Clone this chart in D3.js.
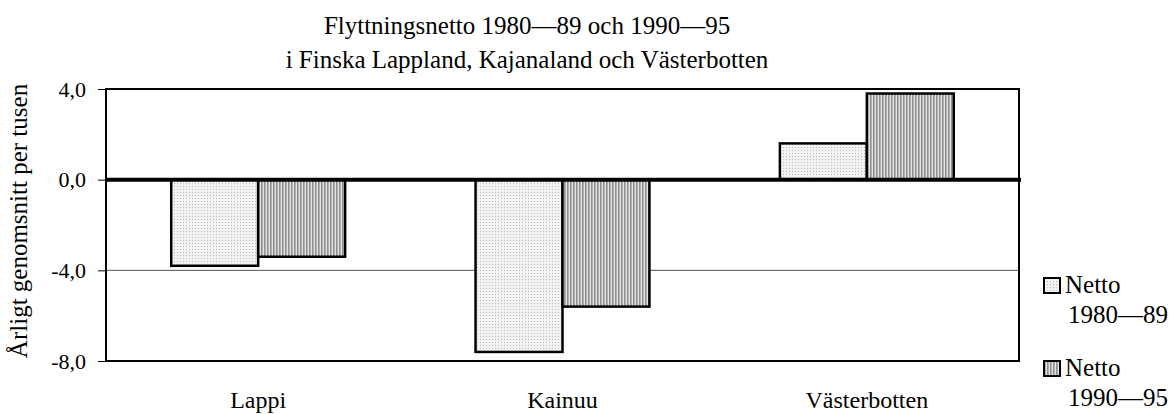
<!DOCTYPE html>
<html>
<head>
<meta charset="utf-8">
<script src="https://cdn.jsdelivr.net/npm/d3@7"></script>
<style>
  body { margin: 0; background: #fff; }
  svg text { font-family: "Liberation Serif", "DejaVu Serif", serif; fill: #000; }
</style>
</head>
<body>
<svg id="chart" width="1172" height="414"></svg>
<script>
// data
var regioner = ['Lappi', 'Kainuu', 'Västerbotten'];
var serier = ['Netto 1980—89', 'Netto 1990—95'];
var netto8089 = [-3.8, -7.6, 1.6];
var netto9095 = [-3.4, -5.6, 3.8];
var yTicks = [4, 0, -4, -8];
var titelRader = ['Flyttningsnetto 1980—89 och 1990—95', 'i Finska Lappland, Kajanaland och Västerbotten'];
var yTitel = 'Årligt genomsnitt per tusen';

var typsnitt = '"Liberation Serif", "DejaVu Serif", serif';
var svg = d3.select('#chart');
var plot = { left: 106, right: 1019, top: 89, bottom: 361 };

var x = d3.scaleBand().domain(regioner).range([plot.left, plot.right]).paddingInner(0).paddingOuter(0);
var x1 = d3.scaleBand().domain([0, 1]).range([0, x.bandwidth()]).paddingInner(0).paddingOuter(0.75);
var y = d3.scaleLinear().domain([-8, 4]).range([plot.bottom, plot.top]);

// mönster
var defs = svg.append('defs');
var prick = defs.append('pattern').attr('id', 'prick')
  .attr('patternUnits', 'userSpaceOnUse').attr('width', 3).attr('height', 3);
prick.append('rect').attr('width', 3).attr('height', 3).attr('fill', '#f2f2f2');
prick.append('rect').attr('width', 1).attr('height', 1).attr('fill', '#bdbdbd');
var rand = defs.append('pattern').attr('id', 'rand')
  .attr('patternUnits', 'userSpaceOnUse').attr('width', 3).attr('height', 3);
rand.append('rect').attr('width', 3).attr('height', 3).attr('fill', '#e4e4e4');
rand.append('rect').attr('width', 1.6).attr('height', 3).attr('fill', '#8f8f8f');
var fyll = ['url(#prick)', 'url(#rand)'];

// rutnät
svg.append('g').selectAll('line').data(yTicks.filter(function(d) { return d === -4; }))
  .enter().append('line')
  .attr('x1', plot.left).attr('x2', plot.right)
  .attr('y1', function(d) { return y(d); }).attr('y2', function(d) { return y(d); })
  .attr('stroke', '#555').attr('stroke-width', 1);

// staplar
var data = [];
regioner.forEach(function(r, i) {
  data.push({ r: r, s: 0, v: netto8089[i] });
  data.push({ r: r, s: 1, v: netto9095[i] });
});
svg.append('g').selectAll('rect').data(data).enter().append('rect')
  .attr('x', function(d) { return x(d.r) + x1(d.s); })
  .attr('width', x1.bandwidth())
  .attr('y', function(d) { return y(Math.max(0, d.v)); })
  .attr('height', function(d) { return Math.abs(y(d.v) - y(0)); })
  .attr('fill', function(d) { return fyll[d.s]; })
  .attr('stroke', '#000').attr('stroke-width', 2.5);

// ram
svg.append('rect')
  .attr('x', plot.left).attr('y', plot.top)
  .attr('width', plot.right - plot.left).attr('height', plot.bottom - plot.top)
  .attr('fill', 'none').attr('stroke', '#000').attr('stroke-width', 2);

// nollinje
svg.append('line')
  .attr('x1', plot.left).attr('x2', plot.right + 2)
  .attr('y1', y(0)).attr('y2', y(0))
  .attr('stroke', '#000').attr('stroke-width', 4);

// y-axel
var yAxel = d3.axisLeft(y).tickValues(yTicks).tickSize(8).tickPadding(12)
  .tickFormat(function(d) { return d3.format('.1f')(d).replace('.', ',').replace('−', '-'); });
var ag = svg.append('g').attr('transform', 'translate(' + plot.left + ',0)').call(yAxel)
  .attr('font-family', typsnitt).attr('font-size', 22);
ag.select('.domain').remove();
ag.selectAll('line').attr('stroke', '#000').attr('stroke-width', 1);
ag.selectAll('text').attr('fill', '#000');

// x-etiketter
svg.append('g').selectAll('text').data(regioner).enter().append('text')
  .attr('x', function(d) { return x(d) + x.bandwidth() / 2; })
  .attr('y', 408)
  .attr('text-anchor', 'middle').attr('font-size', 24).attr('font-family', typsnitt)
  .text(function(d) { return d; });

// titel
svg.append('g').selectAll('text').data(titelRader).enter().append('text')
  .attr('x', 527)
  .attr('y', function(d, i) { return 34 + i * 34; })
  .attr('text-anchor', 'middle').attr('font-size', 25).attr('font-family', typsnitt)
  .text(function(d) { return d; });

// y-titel
svg.append('text')
  .attr('transform', 'translate(27,221) rotate(-90)')
  .attr('text-anchor', 'middle').attr('font-size', 25).attr('font-family', typsnitt)
  .text(yTitel);

// förklaring
var leg = svg.append('g').selectAll('g').data(serier).enter().append('g')
  .attr('transform', function(d, i) { return 'translate(1044,' + (293 + i * 83) + ')'; });
leg.append('rect').attr('x', 0).attr('y', -15).attr('width', 16).attr('height', 15)
  .attr('fill', function(d, i) { return fyll[i]; })
  .attr('stroke', '#000').attr('stroke-width', 2);
leg.append('text').attr('x', 21).attr('y', 0).attr('font-size', 25).attr('font-family', typsnitt)
  .text(function(d) { return d.split(' ')[0]; });
leg.append('text').attr('x', 24).attr('y', 30).attr('font-size', 25).attr('font-family', typsnitt)
  .text(function(d) { return d.split(' ')[1]; });
</script>
</body>
</html>
